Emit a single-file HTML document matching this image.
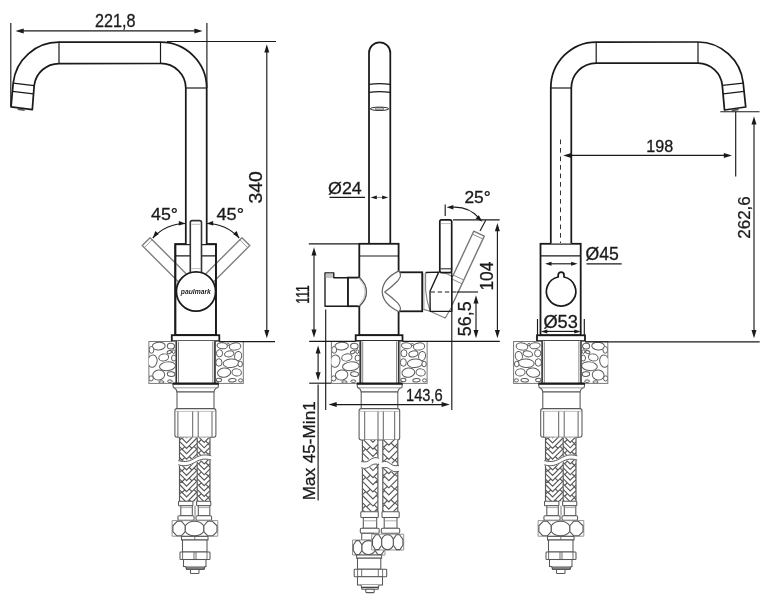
<!DOCTYPE html>
<html><head><meta charset="utf-8"><title>Faucet dimensions</title>
<style>html,body{margin:0;padding:0;background:#fff}svg{display:block;filter:grayscale(1)}text{font-family:"Liberation Sans",sans-serif}</style></head>
<body>
<svg width="762" height="600" viewBox="0 0 762 600" font-family="'Liberation Sans', sans-serif">
<rect width="762" height="600" fill="#fff"/>
<g id="left">
<polygon points="190.06,277.64 150.11,237.69 142.19,245.61 182.14,285.56" fill="#fff" stroke="#808080" stroke-width="1.4" stroke-linejoin="round"/><line x1="152.23" y1="239.81" x2="144.31" y2="247.73" stroke="#8a8a8a" stroke-width="0.80" />
<polygon points="209.86,285.56 249.81,245.61 241.89,237.69 201.94,277.64" fill="#fff" stroke="#808080" stroke-width="1.4" stroke-linejoin="round"/><line x1="247.69" y1="247.73" x2="239.77" y2="239.81" stroke="#8a8a8a" stroke-width="0.80" />
<rect x="175.3" y="244.2" width="40.6" height="91" fill="#fff" stroke="#1a1a1a" stroke-width="1.80"/>
<clipPath id="bodyL"><rect x="175.3" y="244.2" width="40.6" height="91"/></clipPath><g clip-path="url(#bodyL)"><polygon points="190.06,277.64 150.11,237.69 142.19,245.61 182.14,285.56" fill="none" stroke="#808080" stroke-width="1.4" stroke-linejoin="round"/><line x1="152.23" y1="239.81" x2="144.31" y2="247.73" stroke="#8a8a8a" stroke-width="0.80" /><polygon points="209.86,285.56 249.81,245.61 241.89,237.69 201.94,277.64" fill="none" stroke="#808080" stroke-width="1.4" stroke-linejoin="round"/><line x1="247.69" y1="247.73" x2="239.77" y2="239.81" stroke="#8a8a8a" stroke-width="0.80" /></g>
<rect x="175.3" y="244.2" width="40.6" height="91" fill="none" stroke="#1a1a1a" stroke-width="1.80"/>
<line x1="175.30" y1="255.80" x2="215.90" y2="255.80" stroke="#1a1a1a" stroke-width="1.20" />
<path d="M185.8 244 L185.8 88 A25.2 24.6 0 0 0 160.5 63.5 L59 63.5 A25 25 0 0 0 34.2 85.3 L32.3 109.7 L11 106.8 L13.2 83 A45.9 45.9 0 0 1 59 42.2 L160.5 42.2 A46.2 45.8 0 0 1 206.7 88 L206.7 244" fill="#fff" stroke="#1a1a1a" stroke-width="1.75" stroke-linejoin="round"/>
<line x1="185.80" y1="88.00" x2="206.70" y2="88.00" stroke="#1a1a1a" stroke-width="1.20" />
<line x1="160.50" y1="42.00" x2="160.50" y2="63.50" stroke="#1a1a1a" stroke-width="1.20" />
<line x1="59.00" y1="42.20" x2="59.00" y2="63.50" stroke="#1a1a1a" stroke-width="1.20" />
<line x1="13.20" y1="83.20" x2="34.20" y2="85.70" stroke="#1a1a1a" stroke-width="1.20" />
<line x1="12.50" y1="91.30" x2="33.40" y2="93.80" stroke="#1a1a1a" stroke-width="1.20" />
<path d="M17.8 108.4 L24.8 109.3 L24.6 111 L17.6 110.1 Z" fill="#555"/>
<rect x="190.3" y="220.6" width="11.2" height="55" rx="1.8" fill="#fff" stroke="#333" stroke-width="1.6"/>
<line x1="191.40" y1="224.30" x2="200.60" y2="224.30" stroke="#aaa" stroke-width="0.80" />
<line x1="191.40" y1="268.60" x2="200.60" y2="268.60" stroke="#aaa" stroke-width="0.80" />
<circle cx="196" cy="291.5" r="19.6" fill="#fff" stroke="#1a1a1a" stroke-width="1.80"/>
<text x="195.8" y="293.6" font-size="6.5" font-style="italic" font-weight="bold" text-anchor="middle" fill="#1a1a1a" textLength="30" lengthAdjust="spacingAndGlyphs">paulmark</text>
<rect x="171.8" y="335.2" width="47.5" height="6" fill="#fff" stroke="#1a1a1a" stroke-width="1.80"/>
<g stroke="#5c5c5c" stroke-width="1.0" fill="#fff"><rect x="148.90" y="341.50" width="27.00" height="41.90" fill="#fff" stroke="#777" stroke-width="1.0"/><clipPath id="c1"><rect x="148.90" y="341.50" width="27.00" height="41.90"/></clipPath><g clip-path="url(#c1)"><ellipse cx="158.70" cy="346.09" rx="6.50" ry="3.89" transform="rotate(-4 158.70 346.09)"/><ellipse cx="170.90" cy="346.09" rx="3.60" ry="2.89" transform="rotate(8 170.90 346.09)"/><ellipse cx="169.30" cy="352.07" rx="2.30" ry="1.50" transform="rotate(-20 169.30 352.07)"/><ellipse cx="163.70" cy="357.46" rx="5.00" ry="3.49" transform="rotate(-12 163.70 357.46)"/><ellipse cx="152.50" cy="361.05" rx="4.60" ry="6.19" transform="rotate(8 152.50 361.05)"/><ellipse cx="167.50" cy="366.24" rx="8.00" ry="4.39" transform="rotate(-6 167.50 366.24)"/><ellipse cx="158.70" cy="375.02" rx="6.00" ry="4.99" transform="rotate(-8 158.70 375.02)"/><ellipse cx="171.10" cy="374.12" rx="3.80" ry="2.29" transform="rotate(6 171.10 374.12)"/><ellipse cx="169.90" cy="381.21" rx="2.40" ry="1.30" transform="rotate(0 169.90 381.21)"/><ellipse cx="173.90" cy="358.06" rx="2.40" ry="2.99" transform="rotate(0 173.90 358.06)"/><ellipse cx="151.50" cy="349.88" rx="2.40" ry="3.39" transform="rotate(0 151.50 349.88)"/><ellipse cx="151.10" cy="378.41" rx="2.20" ry="2.59" transform="rotate(0 151.10 378.41)"/><ellipse cx="161.40" cy="382.00" rx="2.60" ry="1.20" transform="rotate(0 161.40 382.00)"/><ellipse cx="173.70" cy="351.68" rx="1.40" ry="1.80" transform="rotate(0 173.70 351.68)"/></g></g><g stroke="#5c5c5c" stroke-width="1.0" fill="#fff"><rect x="215.40" y="341.50" width="27.90" height="41.90" fill="#fff" stroke="#777" stroke-width="1.0"/><clipPath id="c2"><rect x="215.40" y="341.50" width="27.90" height="41.90"/></clipPath><g clip-path="url(#c2)"><ellipse cx="235.03" cy="346.49" rx="5.79" ry="3.59" transform="rotate(-6 235.03 346.49)"/><ellipse cx="222.22" cy="345.69" rx="5.17" ry="2.99" transform="rotate(6 222.22 345.69)"/><ellipse cx="229.25" cy="353.87" rx="4.75" ry="2.99" transform="rotate(-12 229.25 353.87)"/><ellipse cx="219.53" cy="353.27" rx="3.10" ry="3.59" transform="rotate(0 219.53 353.27)"/><ellipse cx="238.13" cy="356.07" rx="3.51" ry="4.59" transform="rotate(10 238.13 356.07)"/><ellipse cx="230.90" cy="363.25" rx="7.85" ry="4.19" transform="rotate(-4 230.90 363.25)"/><ellipse cx="218.91" cy="362.45" rx="3.10" ry="3.79" transform="rotate(0 218.91 362.45)"/><ellipse cx="224.08" cy="372.63" rx="6.61" ry="4.59" transform="rotate(-8 224.08 372.63)"/><ellipse cx="236.69" cy="372.43" rx="4.75" ry="3.59" transform="rotate(8 236.69 372.43)"/><ellipse cx="240.20" cy="364.05" rx="2.27" ry="2.79" transform="rotate(0 240.20 364.05)"/><ellipse cx="232.35" cy="380.21" rx="3.72" ry="1.80" transform="rotate(-4 232.35 380.21)"/><ellipse cx="218.91" cy="380.01" rx="2.69" ry="1.80" transform="rotate(6 218.91 380.01)"/><ellipse cx="240.61" cy="380.41" rx="2.07" ry="1.60" transform="rotate(0 240.61 380.41)"/><ellipse cx="228.21" cy="344.49" rx="1.24" ry="1.00" transform="rotate(0 228.21 344.49)"/></g></g><rect x="176.40" y="341" width="38.40" height="42.4" fill="#fff" stroke="none"/><line x1="176.40" y1="341.00" x2="176.40" y2="383.40" stroke="#333" stroke-width="1.40" /><line x1="214.80" y1="341.00" x2="214.80" y2="383.40" stroke="#333" stroke-width="1.40" /><line x1="178.50" y1="341.50" x2="178.50" y2="383.00" stroke="#777" stroke-width="0.90" /><line x1="212.80" y1="341.50" x2="212.80" y2="383.00" stroke="#777" stroke-width="0.90" /><path d="M172.80 384.3 L173.40 387.6 Q176.60 388.6 177.00 392 L214.00 392 Q214.40 388.6 218.00 387.6 L218.60 384.3 Z" fill="#fff" stroke="#585858" stroke-width="1.05" stroke-linejoin="round"/><line x1="173.80" y1="387.80" x2="217.60" y2="387.80" stroke="#888" stroke-width="0.80" /><line x1="172.60" y1="383.60" x2="218.80" y2="383.60" stroke="#1a1a1a" stroke-width="2.00" /><rect x="177.00" y="392.00" width="37.00" height="16.80" rx="0.00" fill="#fff" stroke="#585858" stroke-width="1.05"/><rect x="174.90" y="408.60" width="41.00" height="28.60" rx="2.20" fill="#fff" stroke="#585858" stroke-width="1.05"/><line x1="177.90" y1="411.30" x2="177.90" y2="437.00" stroke="#585858" stroke-width="0.95" /><line x1="192.70" y1="411.30" x2="192.70" y2="437.00" stroke="#585858" stroke-width="0.95" /><line x1="198.20" y1="411.30" x2="198.20" y2="437.00" stroke="#585858" stroke-width="0.95" /><line x1="212.00" y1="411.30" x2="212.00" y2="437.00" stroke="#585858" stroke-width="0.95" /><line x1="175.70" y1="411.40" x2="215.10" y2="411.40" stroke="#999" stroke-width="0.60" />
<g stroke="#585858" stroke-width="1.15" fill="none"><rect x="192.90" y="437.40" width="17.10" height="63.90" fill="#fff" stroke="none"/><clipPath id="c3"><rect x="192.90" y="437.40" width="17.10" height="63.90"/></clipPath><g clip-path="url(#c3)"><path d="M192.90 414.90 L204.19 426.19 L210.00 420.37 M196.29 418.29 l-2.70 2.70 M208.26 422.12 l2.70 2.70 M192.90 420.30 L204.19 431.59 L210.00 425.77 M201.36 428.76 l-2.70 2.70 M205.64 430.13 l2.70 2.70 M192.90 425.70 L204.19 436.99 L210.00 431.17 M196.29 429.09 l-2.70 2.70 M208.26 432.92 l2.70 2.70 M192.90 431.10 L204.19 442.39 L210.00 436.57 M201.36 439.56 l-2.70 2.70 M205.64 440.93 l2.70 2.70 M192.90 436.50 L204.19 447.79 L210.00 441.97 M196.29 439.89 l-2.70 2.70 M208.26 443.72 l2.70 2.70 M192.90 441.90 L204.19 453.19 L210.00 447.37 M201.36 450.36 l-2.70 2.70 M205.64 451.73 l2.70 2.70 M192.90 447.30 L204.19 458.59 L210.00 452.77 M196.29 450.69 l-2.70 2.70 M208.26 454.52 l2.70 2.70 M192.90 452.70 L204.19 463.99 L210.00 458.17 M201.36 461.16 l-2.70 2.70 M205.64 462.53 l2.70 2.70 M192.90 458.10 L204.19 469.39 L210.00 463.57 M196.29 461.49 l-2.70 2.70 M208.26 465.32 l2.70 2.70 M192.90 463.50 L204.19 474.79 L210.00 468.97 M201.36 471.96 l-2.70 2.70 M205.64 473.33 l2.70 2.70 M192.90 468.90 L204.19 480.19 L210.00 474.37 M196.29 472.29 l-2.70 2.70 M208.26 476.12 l2.70 2.70 M192.90 474.30 L204.19 485.59 L210.00 479.77 M201.36 482.76 l-2.70 2.70 M205.64 484.13 l2.70 2.70 M192.90 479.70 L204.19 490.99 L210.00 485.17 M196.29 483.09 l-2.70 2.70 M208.26 486.92 l2.70 2.70 M192.90 485.10 L204.19 496.39 L210.00 490.57 M201.36 493.56 l-2.70 2.70 M205.64 494.93 l2.70 2.70 M192.90 490.50 L204.19 501.79 L210.00 495.97 M196.29 493.89 l-2.70 2.70 M208.26 497.72 l2.70 2.70 M192.90 495.90 L204.19 507.19 L210.00 501.37 M201.36 504.36 l-2.70 2.70 M205.64 505.73 l2.70 2.70 M192.90 501.30 L204.19 512.59 L210.00 506.77 M196.29 504.69 l-2.70 2.70 M208.26 508.52 l2.70 2.70 M192.90 506.70 L204.19 517.99 L210.00 512.17 M201.36 515.16 l-2.70 2.70 M205.64 516.53 l2.70 2.70 M192.90 512.10 L204.19 523.39 L210.00 517.57 M196.29 515.49 l-2.70 2.70 M208.26 519.32 l2.70 2.70 M192.90 517.50 L204.19 528.79 L210.00 522.97 M201.36 525.96 l-2.70 2.70 M205.64 527.33 l2.70 2.70 M192.90 522.90 L204.19 534.19 L210.00 528.37 M196.29 526.29 l-2.70 2.70 M208.26 530.12 l2.70 2.70"/></g><line x1="192.90" y1="437.40" x2="192.90" y2="501.30" stroke="#585858" stroke-width="1.15" /><line x1="210.00" y1="437.40" x2="210.00" y2="501.30" stroke="#585858" stroke-width="1.15" /></g><g stroke="#585858" stroke-width="1.15" fill="none"><rect x="179.50" y="437.40" width="17.70" height="63.90" fill="#fff" stroke="none"/><clipPath id="c4"><rect x="179.50" y="437.40" width="17.70" height="63.90"/></clipPath><g clip-path="url(#c4)"><path d="M179.50 414.30 L186.58 421.38 L197.20 410.76 M181.62 416.42 l-2.70 2.70 M194.01 413.95 l2.70 2.70 M179.50 419.70 L186.58 426.78 L197.20 416.16 M184.81 425.01 l-2.70 2.70 M189.23 424.12 l2.70 2.70 M179.50 425.10 L186.58 432.18 L197.20 421.56 M181.62 427.22 l-2.70 2.70 M194.01 424.75 l2.70 2.70 M179.50 430.50 L186.58 437.58 L197.20 426.96 M184.81 435.81 l-2.70 2.70 M189.23 434.92 l2.70 2.70 M179.50 435.90 L186.58 442.98 L197.20 432.36 M181.62 438.02 l-2.70 2.70 M194.01 435.55 l2.70 2.70 M179.50 441.30 L186.58 448.38 L197.20 437.76 M184.81 446.61 l-2.70 2.70 M189.23 445.72 l2.70 2.70 M179.50 446.70 L186.58 453.78 L197.20 443.16 M181.62 448.82 l-2.70 2.70 M194.01 446.35 l2.70 2.70 M179.50 452.10 L186.58 459.18 L197.20 448.56 M184.81 457.41 l-2.70 2.70 M189.23 456.52 l2.70 2.70 M179.50 457.50 L186.58 464.58 L197.20 453.96 M181.62 459.62 l-2.70 2.70 M194.01 457.15 l2.70 2.70 M179.50 462.90 L186.58 469.98 L197.20 459.36 M184.81 468.21 l-2.70 2.70 M189.23 467.32 l2.70 2.70 M179.50 468.30 L186.58 475.38 L197.20 464.76 M181.62 470.42 l-2.70 2.70 M194.01 467.95 l2.70 2.70 M179.50 473.70 L186.58 480.78 L197.20 470.16 M184.81 479.01 l-2.70 2.70 M189.23 478.12 l2.70 2.70 M179.50 479.10 L186.58 486.18 L197.20 475.56 M181.62 481.22 l-2.70 2.70 M194.01 478.75 l2.70 2.70 M179.50 484.50 L186.58 491.58 L197.20 480.96 M184.81 489.81 l-2.70 2.70 M189.23 488.92 l2.70 2.70 M179.50 489.90 L186.58 496.98 L197.20 486.36 M181.62 492.02 l-2.70 2.70 M194.01 489.55 l2.70 2.70 M179.50 495.30 L186.58 502.38 L197.20 491.76 M184.81 500.61 l-2.70 2.70 M189.23 499.72 l2.70 2.70 M179.50 500.70 L186.58 507.78 L197.20 497.16 M181.62 502.82 l-2.70 2.70 M194.01 500.35 l2.70 2.70 M179.50 506.10 L186.58 513.18 L197.20 502.56 M184.81 511.41 l-2.70 2.70 M189.23 510.52 l2.70 2.70 M179.50 511.50 L186.58 518.58 L197.20 507.96 M181.62 513.62 l-2.70 2.70 M194.01 511.15 l2.70 2.70 M179.50 516.90 L186.58 523.98 L197.20 513.36 M184.81 522.21 l-2.70 2.70 M189.23 521.32 l2.70 2.70 M179.50 522.30 L186.58 529.38 L197.20 518.76 M181.62 524.42 l-2.70 2.70 M194.01 521.95 l2.70 2.70"/></g><line x1="179.50" y1="437.40" x2="179.50" y2="501.30" stroke="#585858" stroke-width="1.15" /><line x1="197.20" y1="437.40" x2="197.20" y2="501.30" stroke="#585858" stroke-width="1.15" /></g><path d="M178.30 462.70 C186.21 464.86 190.48 462.70 194.75 460.30 S203.29 455.74 211.20 457.90" fill="none" stroke="#fff" stroke-width="5.20"/><path d="M178.30 460.60 C186.21 462.76 190.48 460.60 194.75 458.20 S203.29 453.64 211.20 455.80" fill="none" stroke="#585858" stroke-width="1.0"/><path d="M178.30 464.80 C186.21 466.96 190.48 464.80 194.75 462.40 S203.29 457.84 211.20 460.00" fill="none" stroke="#585858" stroke-width="1.0"/><rect x="178.50" y="501.30" width="14.40" height="4.40" rx="0.80" fill="#fff" stroke="#585858" stroke-width="1.05"/><rect x="196.60" y="501.30" width="14.20" height="4.40" rx="0.80" fill="#fff" stroke="#585858" stroke-width="1.05"/><rect x="180.80" y="505.70" width="11.50" height="10.00" rx="0.00" fill="#fff" stroke="#585858" stroke-width="1.05"/><rect x="198.30" y="505.70" width="11.50" height="10.00" rx="0.00" fill="#fff" stroke="#585858" stroke-width="1.05"/><line x1="180.80" y1="507.60" x2="192.30" y2="507.60" stroke="#888" stroke-width="0.70" /><line x1="198.30" y1="507.60" x2="209.80" y2="507.60" stroke="#888" stroke-width="0.70" /><rect x="177.90" y="515.70" width="16.20" height="4.50" rx="1.20" fill="#fff" stroke="#585858" stroke-width="1.05"/><rect x="196.00" y="515.70" width="15.60" height="4.50" rx="1.20" fill="#fff" stroke="#585858" stroke-width="1.05"/><line x1="195.00" y1="505.70" x2="195.00" y2="515.70" stroke="#585858" stroke-width="0.80" /><g stroke="#585858" stroke-width="1.10" fill="#fff" stroke-linejoin="round"><rect x="172.10" y="520.60" width="45.70" height="15.60" stroke="#8a8a8a" stroke-width="0.9"/><path d="M172.90 525.75 L177.38 521.20 L181.34 521.20 L185.30 525.75 L185.30 531.52 L181.34 535.80 L176.85 535.80 L172.90 531.52 Z"/><path d="M217.00 525.75 L212.16 521.20 L207.93 521.20 L203.70 525.75 L203.70 531.52 L207.93 535.80 L212.72 535.80 L217.00 531.52 Z"/><path d="M185.30 525.75 Q188.24 521.20 194.50 521.20 Q200.76 521.20 203.70 525.75 L203.70 531.52 Q200.76 535.80 194.50 535.80 Q188.24 535.80 185.30 531.52 Z"/></g><rect x="181.50" y="536.40" width="26.50" height="3.60" rx="0.00" fill="#fff" stroke="#585858" stroke-width="1.05"/><line x1="194.80" y1="536.40" x2="194.80" y2="540.00" stroke="#585858" stroke-width="0.80" /><rect x="182.50" y="540.00" width="24.50" height="12.00" rx="0.00" fill="#fff" stroke="#585858" stroke-width="1.05"/><rect x="180.00" y="552.00" width="30.00" height="7.50" rx="0.80" fill="#fff" stroke="#585858" stroke-width="1.05"/><line x1="182.60" y1="552.00" x2="182.60" y2="559.50" stroke="#585858" stroke-width="0.85" /><line x1="194.00" y1="552.00" x2="194.00" y2="559.50" stroke="#585858" stroke-width="0.85" /><line x1="196.00" y1="552.00" x2="196.00" y2="559.50" stroke="#585858" stroke-width="0.85" /><line x1="207.00" y1="552.00" x2="207.00" y2="559.50" stroke="#585858" stroke-width="0.85" /><rect x="183.50" y="559.50" width="22.50" height="7.00" rx="0.00" fill="#fff" stroke="#585858" stroke-width="1.05"/><path d="M185.60 566.5 L186.60 569.5 L204.00 569.5 L205.00 566.5" fill="#fff" stroke="#585858" stroke-width="1.05"/><line x1="186.00" y1="568.00" x2="204.60" y2="568.00" stroke="#444" stroke-width="1.40" /><rect x="190.50" y="569.50" width="8.50" height="4.00" rx="0.80" fill="#fff" stroke="#585858" stroke-width="1.05"/>
<line x1="10.80" y1="23.00" x2="10.80" y2="106.00" stroke="#1a1a1a" stroke-width="1.15" />
<line x1="206.90" y1="23.00" x2="206.90" y2="88.00" stroke="#1a1a1a" stroke-width="1.15" />
<line x1="19.50" y1="30.90" x2="198.60" y2="30.90" stroke="#1a1a1a" stroke-width="1.15" /><polygon points="15.50,30.90 23.70,28.40 23.70,33.40" fill="#1a1a1a"/><polygon points="202.60,30.90 194.40,33.40 194.40,28.40" fill="#1a1a1a"/>
<text x="115.30" y="27.00" font-size="18.16" text-anchor="middle" fill="#1a1a1a" stroke="#1a1a1a" stroke-width="0.3" textLength="40.50" lengthAdjust="spacingAndGlyphs">221,8</text>
<line x1="167.00" y1="41.50" x2="276.00" y2="41.50" stroke="#1a1a1a" stroke-width="1.15" />
<line x1="219.30" y1="341.60" x2="275.00" y2="341.60" stroke="#1a1a1a" stroke-width="1.15" />
<line x1="266.80" y1="48.20" x2="266.80" y2="334.30" stroke="#1a1a1a" stroke-width="1.15" /><polygon points="266.80,44.20 269.30,52.40 264.30,52.40" fill="#1a1a1a"/><polygon points="266.80,338.30 264.30,330.10 269.30,330.10" fill="#1a1a1a"/>
<text x="262.20" y="187.40" font-size="18.30" text-anchor="middle" fill="#1a1a1a" stroke="#1a1a1a" stroke-width="0.3" textLength="32.31" lengthAdjust="spacingAndGlyphs" transform="rotate(-90 262.20 187.40)">340</text>
<path d="M185.20 223.50 A45.00 45.00 0 0 0 152.80 238.00" fill="none" stroke="#1a1a1a" stroke-width="1.15"/><polygon points="185.40,223.50 178.73,225.47 178.88,221.07" fill="#1a1a1a"/><polygon points="152.80,238.00 155.30,231.07 158.92,233.90" fill="#1a1a1a"/>
<path d="M206.80 223.50 A45.00 45.00 0 0 1 239.20 238.00" fill="none" stroke="#1a1a1a" stroke-width="1.15"/><polygon points="206.60,223.50 213.12,221.07 213.27,225.47" fill="#1a1a1a"/><polygon points="239.20,238.00 233.08,233.90 236.70,231.07" fill="#1a1a1a"/>
<text x="164.50" y="220.20" font-size="17.04" text-anchor="middle" fill="#1a1a1a" stroke="#1a1a1a" stroke-width="0.3" textLength="26.92" lengthAdjust="spacingAndGlyphs">45°</text>
<text x="230.20" y="220.20" font-size="17.04" text-anchor="middle" fill="#1a1a1a" stroke="#1a1a1a" stroke-width="0.3" textLength="27.50" lengthAdjust="spacingAndGlyphs">45°</text>
</g>
<g id="centre">
<path d="M369 243.6 L369 53 A10.65 10.7 0 0 1 390.3 53 L390.3 243.6" fill="#fff" stroke="#1a1a1a" stroke-width="1.75"/>
<path d="M369 84.4 Q379.6 82.8 390.2 84.4 M369 92.4 Q379.6 90.8 390.2 92.4" fill="none" stroke="#1a1a1a" stroke-width="1.2"/>
<ellipse cx="379.5" cy="108.8" rx="9.3" ry="1.7" fill="#fff" stroke="#1a1a1a" stroke-width="0.9"/>
<rect x="375.6" y="107.9" width="7.8" height="2.0" rx="0.8" fill="#fff" stroke="#333" stroke-width="0.8"/>
<path d="M325 272.8 L333.8 272.8 L333.8 277.7 L348 277.7 L348 306.2 L325 306.2 Z" fill="#fff" stroke="#1a1a1a" stroke-width="1.35" stroke-linejoin="round"/>
<rect x="325.8" y="273.8" width="7.2" height="4.2" fill="#c4c4c4"/>
<rect x="348" y="277.6" width="11.5" height="28.6" fill="#fff" stroke="#1a1a1a" stroke-width="1.80"/>
<rect x="398" y="272.3" width="24.2" height="39" fill="#fff" stroke="#1a1a1a" stroke-width="1.80"/>
<rect x="359.3" y="243.8" width="39.3" height="91.4" fill="#fff" stroke="#1a1a1a" stroke-width="1.80"/>
<line x1="359.30" y1="256.00" x2="398.60" y2="256.00" stroke="#1a1a1a" stroke-width="1.20" />
<line x1="359.30" y1="278.20" x2="359.30" y2="305.60" stroke="#fff" stroke-width="2.60" />
<path d="M359.4 277.4 Q366.6 284 366.4 291.8 Q366.6 299.6 359.4 306.2" fill="#fff" stroke="#555" stroke-width="1.3"/>
<path d="M359.6 279.3 Q365.2 285 365.0 291.8 Q365.2 298.6 359.6 304.3" fill="none" stroke="#bbb" stroke-width="0.8"/>
<line x1="398.70" y1="272.20" x2="398.70" y2="310.40" stroke="#fff" stroke-width="2.80" />
<path d="M398.9 270.9 Q382.6 279 382.2 291.6 Q382.6 304 398.9 311.8" fill="#fff" stroke="#666" stroke-width="1.25"/>
<path d="M398.9 270.9 Q402.6 275.4 397.6 281 Q391 287.6 384.7 292 Q391 296.6 397.6 302.8 Q402.6 308.4 398.9 311.8" fill="none" stroke="#666" stroke-width="1.15" stroke-linejoin="round"/>
<rect x="355.7" y="335.2" width="46.8" height="5.8" fill="#fff" stroke="#1a1a1a" stroke-width="1.80"/>
<path d="M452.49 276.79 L473.74 231.20 L484.26 236.10 L452.14 304.98" fill="#fff" stroke="#777" stroke-width="1.4" stroke-linejoin="round"/><line x1="472.39" y1="234.10" x2="482.90" y2="239.00" stroke="#808080" stroke-width="0.90" /><line x1="453.29" y1="275.06" x2="463.80" y2="279.97" stroke="#808080" stroke-width="0.90" /><line x1="451.51" y1="278.87" x2="462.03" y2="283.77" stroke="#808080" stroke-width="0.90" />
<path d="M425.6 272.7 L425.6 290 Q426.5 301 430.2 311.3 L445.1 318.1 L451.4 307.5" fill="none" stroke="#808080" stroke-width="1.1" stroke-linejoin="round"/>
<path d="M423.4 309.4 L430.2 311.3" fill="none" stroke="#808080" stroke-width="1.1"/>
<path d="M438.7 272 Q446 272.6 451.6 276.2" fill="none" stroke="#808080" stroke-width="1.1"/>
<line x1="423.90" y1="273.20" x2="423.90" y2="309.40" stroke="#808080" stroke-width="0.80" />
<path d="M425.6 272.5 L438.7 272.1 L430 291.3 L430.2 311.3 L451.8 311.3 L451.8 272.4" fill="none" stroke="#1a1a1a" stroke-width="1.35" stroke-linejoin="round"/>
<rect x="439.8" y="219.8" width="11.9" height="52.8" rx="1.8" fill="#fff" stroke="#1a1a1a" stroke-width="1.7"/>
<line x1="440.80" y1="223.60" x2="450.80" y2="223.60" stroke="#aaa" stroke-width="0.80" />
<line x1="440.60" y1="268.80" x2="451.00" y2="268.80" stroke="#1a1a1a" stroke-width="1.00" />
<line x1="430.50" y1="292.00" x2="457.00" y2="292.00" stroke="#1a1a1a" stroke-width="1.00" stroke-dasharray="4.4 2.8"/>
<line x1="457.00" y1="292.00" x2="478.00" y2="292.00" stroke="#1a1a1a" stroke-width="1.15" />
<g stroke="#5c5c5c" stroke-width="1.0" fill="#fff"><rect x="331.40" y="341.50" width="28.20" height="41.90" fill="#fff" stroke="#777" stroke-width="1.0"/><clipPath id="c5"><rect x="331.40" y="341.50" width="28.20" height="41.90"/></clipPath><g clip-path="url(#c5)"><ellipse cx="341.64" cy="346.09" rx="6.79" ry="3.89" transform="rotate(-4 341.64 346.09)"/><ellipse cx="354.38" cy="346.09" rx="3.76" ry="2.89" transform="rotate(8 354.38 346.09)"/><ellipse cx="352.71" cy="352.07" rx="2.40" ry="1.50" transform="rotate(-20 352.71 352.07)"/><ellipse cx="346.86" cy="357.46" rx="5.22" ry="3.49" transform="rotate(-12 346.86 357.46)"/><ellipse cx="335.16" cy="361.05" rx="4.80" ry="6.19" transform="rotate(8 335.16 361.05)"/><ellipse cx="350.83" cy="366.24" rx="8.36" ry="4.39" transform="rotate(-6 350.83 366.24)"/><ellipse cx="341.64" cy="375.02" rx="6.27" ry="4.99" transform="rotate(-8 341.64 375.02)"/><ellipse cx="354.59" cy="374.12" rx="3.97" ry="2.29" transform="rotate(6 354.59 374.12)"/><ellipse cx="353.33" cy="381.21" rx="2.51" ry="1.30" transform="rotate(0 353.33 381.21)"/><ellipse cx="357.51" cy="358.06" rx="2.51" ry="2.99" transform="rotate(0 357.51 358.06)"/><ellipse cx="334.12" cy="349.88" rx="2.51" ry="3.39" transform="rotate(0 334.12 349.88)"/><ellipse cx="333.70" cy="378.41" rx="2.30" ry="2.59" transform="rotate(0 333.70 378.41)"/><ellipse cx="344.46" cy="382.00" rx="2.72" ry="1.20" transform="rotate(0 344.46 382.00)"/><ellipse cx="357.30" cy="351.68" rx="1.46" ry="1.80" transform="rotate(0 357.30 351.68)"/></g></g><g stroke="#5c5c5c" stroke-width="1.0" fill="#fff"><rect x="399.90" y="341.50" width="27.20" height="41.90" fill="#fff" stroke="#777" stroke-width="1.0"/><clipPath id="c6"><rect x="399.90" y="341.50" width="27.20" height="41.90"/></clipPath><g clip-path="url(#c6)"><ellipse cx="419.04" cy="346.49" rx="5.64" ry="3.59" transform="rotate(-6 419.04 346.49)"/><ellipse cx="406.55" cy="345.69" rx="5.04" ry="2.99" transform="rotate(6 406.55 345.69)"/><ellipse cx="413.40" cy="353.87" rx="4.63" ry="2.99" transform="rotate(-12 413.40 353.87)"/><ellipse cx="403.93" cy="353.27" rx="3.02" ry="3.59" transform="rotate(0 403.93 353.27)"/><ellipse cx="422.06" cy="356.07" rx="3.43" ry="4.59" transform="rotate(10 422.06 356.07)"/><ellipse cx="415.01" cy="363.25" rx="7.66" ry="4.19" transform="rotate(-4 415.01 363.25)"/><ellipse cx="403.33" cy="362.45" rx="3.02" ry="3.79" transform="rotate(0 403.33 362.45)"/><ellipse cx="408.36" cy="372.63" rx="6.45" ry="4.59" transform="rotate(-8 408.36 372.63)"/><ellipse cx="420.65" cy="372.43" rx="4.63" ry="3.59" transform="rotate(8 420.65 372.43)"/><ellipse cx="424.08" cy="364.05" rx="2.22" ry="2.79" transform="rotate(0 424.08 364.05)"/><ellipse cx="416.42" cy="380.21" rx="3.63" ry="1.80" transform="rotate(-4 416.42 380.21)"/><ellipse cx="403.33" cy="380.01" rx="2.62" ry="1.80" transform="rotate(6 403.33 380.01)"/><ellipse cx="424.48" cy="380.41" rx="2.01" ry="1.60" transform="rotate(0 424.48 380.41)"/><ellipse cx="412.39" cy="344.49" rx="1.21" ry="1.00" transform="rotate(0 412.39 344.49)"/></g></g><rect x="360.60" y="341" width="38.00" height="42.4" fill="#fff" stroke="none"/><line x1="360.60" y1="341.00" x2="360.60" y2="383.40" stroke="#333" stroke-width="1.40" /><line x1="398.60" y1="341.00" x2="398.60" y2="383.40" stroke="#333" stroke-width="1.40" /><line x1="362.70" y1="341.50" x2="362.70" y2="383.00" stroke="#777" stroke-width="0.90" /><line x1="396.60" y1="341.50" x2="396.60" y2="383.00" stroke="#777" stroke-width="0.90" /><path d="M357.00 384.3 L357.60 387.6 Q360.80 388.6 361.20 392 L397.80 392 Q398.20 388.6 401.80 387.6 L402.40 384.3 Z" fill="#fff" stroke="#585858" stroke-width="1.05" stroke-linejoin="round"/><line x1="358.00" y1="387.80" x2="401.40" y2="387.80" stroke="#888" stroke-width="0.80" /><line x1="356.80" y1="383.60" x2="402.60" y2="383.60" stroke="#1a1a1a" stroke-width="2.00" /><rect x="361.20" y="392.00" width="36.60" height="16.80" rx="0.00" fill="#fff" stroke="#585858" stroke-width="1.05"/><rect x="359.10" y="408.60" width="40.60" height="31.40" rx="2.20" fill="#fff" stroke="#585858" stroke-width="1.05"/><line x1="364.70" y1="411.30" x2="364.70" y2="439.80" stroke="#585858" stroke-width="0.95" /><line x1="378.00" y1="411.30" x2="378.00" y2="439.80" stroke="#585858" stroke-width="0.95" /><line x1="383.30" y1="411.30" x2="383.30" y2="439.80" stroke="#585858" stroke-width="0.95" /><line x1="394.70" y1="411.30" x2="394.70" y2="439.80" stroke="#585858" stroke-width="0.95" /><line x1="359.90" y1="411.40" x2="398.90" y2="411.40" stroke="#999" stroke-width="0.60" />
<g stroke="#585858" stroke-width="1.15" fill="none"><rect x="362.40" y="440.00" width="15.50" height="71.70" fill="#fff" stroke="none"/><clipPath id="c7"><rect x="362.40" y="440.00" width="15.50" height="71.70"/></clipPath><g clip-path="url(#c7)"><path d="M362.40 417.40 L372.94 427.94 L377.90 422.98 M365.56 420.56 l-3.55 3.55 M376.41 424.47 l3.55 3.55 M362.40 424.50 L372.94 435.04 L377.90 430.08 M370.31 432.41 l-3.55 3.55 M374.18 433.80 l3.55 3.55 M362.40 431.60 L372.94 442.14 L377.90 437.18 M365.56 434.76 l-3.55 3.55 M376.41 438.67 l3.55 3.55 M362.40 438.70 L372.94 449.24 L377.90 444.28 M370.31 446.61 l-3.55 3.55 M374.18 448.00 l3.55 3.55 M362.40 445.80 L372.94 456.34 L377.90 451.38 M365.56 448.96 l-3.55 3.55 M376.41 452.87 l3.55 3.55 M362.40 452.90 L372.94 463.44 L377.90 458.48 M370.31 460.81 l-3.55 3.55 M374.18 462.20 l3.55 3.55 M362.40 460.00 L372.94 470.54 L377.90 465.58 M365.56 463.16 l-3.55 3.55 M376.41 467.07 l3.55 3.55 M362.40 467.10 L372.94 477.64 L377.90 472.68 M370.31 475.01 l-3.55 3.55 M374.18 476.40 l3.55 3.55 M362.40 474.20 L372.94 484.74 L377.90 479.78 M365.56 477.36 l-3.55 3.55 M376.41 481.27 l3.55 3.55 M362.40 481.30 L372.94 491.84 L377.90 486.88 M370.31 489.21 l-3.55 3.55 M374.18 490.60 l3.55 3.55 M362.40 488.40 L372.94 498.94 L377.90 493.98 M365.56 491.56 l-3.55 3.55 M376.41 495.47 l3.55 3.55 M362.40 495.50 L372.94 506.04 L377.90 501.08 M370.31 503.41 l-3.55 3.55 M374.18 504.80 l3.55 3.55 M362.40 502.60 L372.94 513.14 L377.90 508.18 M365.56 505.76 l-3.55 3.55 M376.41 509.67 l3.55 3.55 M362.40 509.70 L372.94 520.24 L377.90 515.28 M370.31 517.61 l-3.55 3.55 M374.18 519.00 l3.55 3.55 M362.40 516.80 L372.94 527.34 L377.90 522.38 M365.56 519.96 l-3.55 3.55 M376.41 523.87 l3.55 3.55 M362.40 523.90 L372.94 534.44 L377.90 529.48 M370.31 531.81 l-3.55 3.55 M374.18 533.20 l3.55 3.55 M362.40 531.00 L372.94 541.54 L377.90 536.58 M365.56 534.16 l-3.55 3.55 M376.41 538.07 l3.55 3.55"/></g><line x1="362.40" y1="440.00" x2="362.40" y2="511.70" stroke="#585858" stroke-width="1.15" /><line x1="377.90" y1="440.00" x2="377.90" y2="511.70" stroke="#585858" stroke-width="1.15" /></g>
<g stroke="#585858" stroke-width="1.15" fill="none"><rect x="382.80" y="440.00" width="15.00" height="71.70" fill="#fff" stroke="none"/><clipPath id="c8"><rect x="382.80" y="440.00" width="15.00" height="71.70"/></clipPath><g clip-path="url(#c8)"><path d="M382.80 417.90 L388.80 423.90 L397.80 414.90 M384.60 419.70 l-3.55 3.55 M395.10 417.60 l3.55 3.55 M382.80 425.00 L388.80 431.00 L397.80 422.00 M387.30 429.50 l-3.55 3.55 M391.05 428.75 l3.55 3.55 M382.80 432.10 L388.80 438.10 L397.80 429.10 M384.60 433.90 l-3.55 3.55 M395.10 431.80 l3.55 3.55 M382.80 439.20 L388.80 445.20 L397.80 436.20 M387.30 443.70 l-3.55 3.55 M391.05 442.95 l3.55 3.55 M382.80 446.30 L388.80 452.30 L397.80 443.30 M384.60 448.10 l-3.55 3.55 M395.10 446.00 l3.55 3.55 M382.80 453.40 L388.80 459.40 L397.80 450.40 M387.30 457.90 l-3.55 3.55 M391.05 457.15 l3.55 3.55 M382.80 460.50 L388.80 466.50 L397.80 457.50 M384.60 462.30 l-3.55 3.55 M395.10 460.20 l3.55 3.55 M382.80 467.60 L388.80 473.60 L397.80 464.60 M387.30 472.10 l-3.55 3.55 M391.05 471.35 l3.55 3.55 M382.80 474.70 L388.80 480.70 L397.80 471.70 M384.60 476.50 l-3.55 3.55 M395.10 474.40 l3.55 3.55 M382.80 481.80 L388.80 487.80 L397.80 478.80 M387.30 486.30 l-3.55 3.55 M391.05 485.55 l3.55 3.55 M382.80 488.90 L388.80 494.90 L397.80 485.90 M384.60 490.70 l-3.55 3.55 M395.10 488.60 l3.55 3.55 M382.80 496.00 L388.80 502.00 L397.80 493.00 M387.30 500.50 l-3.55 3.55 M391.05 499.75 l3.55 3.55 M382.80 503.10 L388.80 509.10 L397.80 500.10 M384.60 504.90 l-3.55 3.55 M395.10 502.80 l3.55 3.55 M382.80 510.20 L388.80 516.20 L397.80 507.20 M387.30 514.70 l-3.55 3.55 M391.05 513.95 l3.55 3.55 M382.80 517.30 L388.80 523.30 L397.80 514.30 M384.60 519.10 l-3.55 3.55 M395.10 517.00 l3.55 3.55 M382.80 524.40 L388.80 530.40 L397.80 521.40 M387.30 528.90 l-3.55 3.55 M391.05 528.15 l3.55 3.55 M382.80 531.50 L388.80 537.50 L397.80 528.50 M384.60 533.30 l-3.55 3.55 M395.10 531.20 l3.55 3.55"/></g><line x1="382.80" y1="440.00" x2="382.80" y2="511.70" stroke="#585858" stroke-width="1.15" /><line x1="397.80" y1="440.00" x2="397.80" y2="511.70" stroke="#585858" stroke-width="1.15" /></g>
<path d="M361.20 464.60 C365.81 466.04 367.98 464.60 370.15 463.00 S374.49 459.96 379.10 461.40" fill="none" stroke="#fff" stroke-width="7.40"/><path d="M361.20 461.40 C365.81 462.84 367.98 461.40 370.15 459.80 S374.49 456.76 379.10 458.20" fill="none" stroke="#585858" stroke-width="1.0"/><path d="M361.20 467.80 C365.81 469.24 367.98 467.80 370.15 466.20 S374.49 463.16 379.10 464.60" fill="none" stroke="#585858" stroke-width="1.0"/>
<path d="M381.60 465.00 C386.10 463.56 388.20 465.00 390.30 466.60 S394.50 469.64 399.00 468.20" fill="none" stroke="#fff" stroke-width="7.00"/><path d="M381.60 462.00 C386.10 460.56 388.20 462.00 390.30 463.60 S394.50 466.64 399.00 465.20" fill="none" stroke="#585858" stroke-width="1.0"/><path d="M381.60 468.00 C386.10 466.56 388.20 468.00 390.30 469.60 S394.50 472.64 399.00 471.20" fill="none" stroke="#585858" stroke-width="1.0"/>
<rect x="360.80" y="511.70" width="17.50" height="5.80" rx="0.80" fill="#fff" stroke="#585858" stroke-width="1.05"/>
<rect x="382.00" y="511.70" width="17.20" height="5.80" rx="0.80" fill="#fff" stroke="#585858" stroke-width="1.05"/>
<rect x="363.30" y="517.50" width="13.40" height="10.80" rx="0.00" fill="#fff" stroke="#585858" stroke-width="1.05"/>
<rect x="384.20" y="517.50" width="12.80" height="10.80" rx="0.00" fill="#fff" stroke="#585858" stroke-width="1.05"/>
<line x1="363.30" y1="520.80" x2="376.70" y2="520.80" stroke="#888" stroke-width="0.70" />
<line x1="384.20" y1="520.80" x2="397.00" y2="520.80" stroke="#888" stroke-width="0.70" />
<rect x="360.30" y="528.30" width="18.90" height="5.00" rx="1.20" fill="#fff" stroke="#585858" stroke-width="1.05"/>
<rect x="381.30" y="528.30" width="18.40" height="5.00" rx="1.20" fill="#fff" stroke="#585858" stroke-width="1.05"/>
<rect x="361.70" y="533.30" width="12.00" height="7.00" rx="0.00" fill="#fff" stroke="#585858" stroke-width="1.05"/>
<g stroke="#585858" stroke-width="1.10" fill="#fff" stroke-linejoin="round"><rect x="352.50" y="540.00" width="32.50" height="15.00" stroke="#8a8a8a" stroke-width="0.9"/><path d="M353.30 544.95 L356.30 540.60 L359.15 540.60 L362.00 544.95 L362.00 550.50 L359.15 554.60 L355.92 554.60 L353.30 550.50 Z"/><path d="M384.20 544.95 L381.00 540.60 L378.00 540.60 L375.00 544.95 L375.00 550.50 L378.00 554.60 L381.40 554.60 L384.20 550.50 Z"/><path d="M362.00 544.95 Q364.08 540.60 368.50 540.60 Q372.92 540.60 375.00 544.95 L375.00 550.50 Q372.92 554.60 368.50 554.60 Q364.08 554.60 362.00 550.50 Z"/></g>
<g stroke="#585858" stroke-width="1.10" fill="#fff" stroke-linejoin="round"><rect x="371.70" y="534.20" width="32.00" height="15.80" stroke="#8a8a8a" stroke-width="0.9"/><path d="M372.50 539.41 L375.70 534.80 L378.70 534.80 L381.70 539.41 L381.70 545.26 L378.70 549.60 L375.30 549.60 L372.50 545.26 Z"/><path d="M402.90 539.41 L399.54 534.80 L396.42 534.80 L393.30 539.41 L393.30 545.26 L396.42 549.60 L399.96 549.60 L402.90 545.26 Z"/><path d="M381.70 539.41 Q383.56 534.80 387.50 534.80 Q391.44 534.80 393.30 539.41 L393.30 545.26 Q391.44 549.60 387.50 549.60 Q383.56 549.60 381.70 545.26 Z"/></g>
<rect x="356.60" y="555.00" width="25.00" height="3.20" rx="0.00" fill="#fff" stroke="#585858" stroke-width="1.05"/>
<rect x="357.50" y="558.20" width="23.30" height="11.00" rx="0.00" fill="#fff" stroke="#585858" stroke-width="1.05"/>
<rect x="354.20" y="569.20" width="32.50" height="7.50" rx="0.80" fill="#fff" stroke="#585858" stroke-width="1.05"/>
<line x1="357.60" y1="569.20" x2="357.60" y2="576.70" stroke="#585858" stroke-width="0.85" />
<line x1="361.70" y1="569.20" x2="361.70" y2="576.70" stroke="#585858" stroke-width="0.85" />
<line x1="378.30" y1="569.20" x2="378.30" y2="576.70" stroke="#585858" stroke-width="0.85" />
<line x1="382.60" y1="569.20" x2="382.60" y2="576.70" stroke="#585858" stroke-width="0.85" />
<rect x="357.50" y="576.70" width="25.00" height="8.30" rx="0.00" fill="#fff" stroke="#585858" stroke-width="1.05"/>
<path d="M361 585 L362 589.2 L378 589.2 L379 585" fill="#fff" stroke="#585858" stroke-width="1.05"/>
<line x1="361.60" y1="587.40" x2="378.40" y2="587.40" stroke="#444" stroke-width="1.40" />
<rect x="365.80" y="589.20" width="8.40" height="3.40" rx="0.80" fill="#fff" stroke="#585858" stroke-width="1.05"/>
<text x="344.90" y="193.70" font-size="17.04" text-anchor="middle" fill="#1a1a1a" stroke="#1a1a1a" stroke-width="0.3" textLength="33.71" lengthAdjust="spacingAndGlyphs">Ø24</text>
<line x1="329.50" y1="197.40" x2="365.00" y2="197.40" stroke="#1a1a1a" stroke-width="1.15" />
<line x1="375.00" y1="197.40" x2="384.00" y2="197.40" stroke="#6a6a6a" stroke-width="0.80" />
<polygon points="370.60,197.40 376.80,195.50 376.80,199.30" fill="#1a1a1a"/>
<polygon points="388.30,197.40 382.10,199.30 382.10,195.50" fill="#1a1a1a"/>
<line x1="308.80" y1="243.80" x2="359.00" y2="243.80" stroke="#1a1a1a" stroke-width="1.15" />
<line x1="309.20" y1="341.40" x2="355.70" y2="341.40" stroke="#1a1a1a" stroke-width="1.15" />
<line x1="402.50" y1="341.40" x2="499.80" y2="341.40" stroke="#1a1a1a" stroke-width="1.15" />
<line x1="309.20" y1="383.20" x2="331.00" y2="383.20" stroke="#1a1a1a" stroke-width="1.15" />
<line x1="314.00" y1="251.30" x2="314.00" y2="333.80" stroke="#1a1a1a" stroke-width="1.15" /><polygon points="314.00,247.30 316.50,255.50 311.50,255.50" fill="#1a1a1a"/><polygon points="314.00,337.80 311.50,329.60 316.50,329.60" fill="#1a1a1a"/>
<text x="309.20" y="294.40" font-size="18.02" text-anchor="middle" fill="#1a1a1a" stroke="#1a1a1a" stroke-width="0.3" textLength="18.72" lengthAdjust="spacingAndGlyphs" transform="rotate(-90 309.20 294.40)">111</text>
<line x1="318.10" y1="349.40" x2="318.10" y2="376.40" stroke="#1a1a1a" stroke-width="1.15" /><polygon points="318.10,345.40 320.60,353.60 315.60,353.60" fill="#1a1a1a"/><polygon points="318.10,380.40 315.60,372.20 320.60,372.20" fill="#1a1a1a"/>
<line x1="318.10" y1="384.50" x2="318.10" y2="500.50" stroke="#1a1a1a" stroke-width="1.15" />
<text x="314.80" y="450.80" font-size="16.90" text-anchor="middle" fill="#1a1a1a" stroke="#1a1a1a" stroke-width="0.3" textLength="99.02" lengthAdjust="spacingAndGlyphs" transform="rotate(-90 314.80 450.80)">Max 45-Min1</text>
<line x1="325.70" y1="309.60" x2="325.70" y2="410.00" stroke="#1a1a1a" stroke-width="1.15" />
<line x1="451.80" y1="275.00" x2="451.80" y2="410.00" stroke="#1a1a1a" stroke-width="1.15" />
<line x1="332.50" y1="404.60" x2="445.80" y2="404.60" stroke="#1a1a1a" stroke-width="1.15" /><polygon points="328.50,404.60 336.70,402.10 336.70,407.10" fill="#1a1a1a"/><polygon points="449.80,404.60 441.60,407.10 441.60,402.10" fill="#1a1a1a"/>
<text x="424.40" y="401.00" font-size="16.90" text-anchor="middle" fill="#1a1a1a" stroke="#1a1a1a" stroke-width="0.3" textLength="36.74" lengthAdjust="spacingAndGlyphs">143,6</text>
<line x1="445.20" y1="204.50" x2="445.20" y2="216.00" stroke="#1a1a1a" stroke-width="1.15" />
<line x1="453.00" y1="219.90" x2="499.70" y2="219.90" stroke="#1a1a1a" stroke-width="1.15" />
<path d="M452.5 207.2 Q469 206.2 479.6 218.6" fill="none" stroke="#1a1a1a" stroke-width="1.15"/>
<polygon points="446.60,207.30 453.40,205.10 453.40,209.50" fill="#1a1a1a"/>
<polygon points="482.40,221.80 475.62,218.45 478.82,215.14" fill="#1a1a1a"/>
<line x1="485.70" y1="220.30" x2="480.00" y2="231.00" stroke="#1a1a1a" stroke-width="1.15" />
<text x="477.60" y="203.40" font-size="16.90" text-anchor="middle" fill="#1a1a1a" stroke="#1a1a1a" stroke-width="0.3" textLength="26.32" lengthAdjust="spacingAndGlyphs">25°</text>
<line x1="497.40" y1="227.00" x2="497.40" y2="334.20" stroke="#1a1a1a" stroke-width="1.15" /><polygon points="497.40,223.00 499.90,231.20 494.90,231.20" fill="#1a1a1a"/><polygon points="497.40,338.20 494.90,330.00 499.90,330.00" fill="#1a1a1a"/>
<text x="493.40" y="276.10" font-size="18.30" text-anchor="middle" fill="#1a1a1a" stroke="#1a1a1a" stroke-width="0.3" textLength="28.93" lengthAdjust="spacingAndGlyphs" transform="rotate(-90 493.40 276.10)">104</text>
<line x1="476.00" y1="299.20" x2="476.00" y2="334.20" stroke="#1a1a1a" stroke-width="1.15" /><polygon points="476.00,295.20 478.50,303.40 473.50,303.40" fill="#1a1a1a"/><polygon points="476.00,338.20 473.50,330.00 478.50,330.00" fill="#1a1a1a"/>
<text x="471.30" y="318.80" font-size="18.30" text-anchor="middle" fill="#1a1a1a" stroke="#1a1a1a" stroke-width="0.3" textLength="34.74" lengthAdjust="spacingAndGlyphs" transform="rotate(-90 471.30 318.80)">56,5</text>
</g>
<g id="right">
<rect x="540.5" y="243.8" width="40.2" height="91.4" fill="#fff" stroke="#1a1a1a" stroke-width="1.80"/>
<line x1="540.50" y1="255.80" x2="580.70" y2="255.80" stroke="#1a1a1a" stroke-width="1.20" />
<path d="M571.3 243.6 L571.3 88 A24.9 25 0 0 1 596.2 63 L698 63 A24.8 24.8 0 0 1 722.3 85.4 L724.5 110 L745.7 107 L743.2 83 A45.8 45.8 0 0 0 698 42 L596.2 42 A45.4 46 0 0 0 550.8 88 L550.8 243.6" fill="#fff" stroke="#1a1a1a" stroke-width="1.75" stroke-linejoin="round"/>
<line x1="550.80" y1="88.00" x2="571.30" y2="88.00" stroke="#1a1a1a" stroke-width="1.20" />
<line x1="596.20" y1="42.00" x2="596.20" y2="63.00" stroke="#1a1a1a" stroke-width="1.20" />
<line x1="698.00" y1="42.00" x2="698.00" y2="63.00" stroke="#1a1a1a" stroke-width="1.20" />
<line x1="722.40" y1="85.40" x2="743.20" y2="83.20" stroke="#1a1a1a" stroke-width="1.20" />
<line x1="723.20" y1="93.80" x2="744.10" y2="91.30" stroke="#1a1a1a" stroke-width="1.20" />
<path d="M731.5 109.6 L738.5 108.4 L738.8 110.2 L731.8 111.4 Z" fill="#555"/>
<line x1="560.50" y1="139.50" x2="560.50" y2="243.00" stroke="#333" stroke-width="1.00" stroke-dasharray="4.7 3.8"/>
<path d="M558.2 277 L558.2 275 A2.9 2.9 0 0 1 564 275 L564 277 A14.7 14.7 0 1 1 558.2 277 Z" fill="#fff" stroke="#1a1a1a" stroke-width="1.75" stroke-linejoin="round"/>
<rect x="537" y="335.3" width="48" height="5.8" fill="#fff" stroke="#1a1a1a" stroke-width="1.80"/>
<g stroke="#5c5c5c" stroke-width="1.0" fill="#fff"><rect x="513.60" y="341.50" width="28.30" height="41.90" fill="#fff" stroke="#777" stroke-width="1.0"/><clipPath id="c9"><rect x="513.60" y="341.50" width="28.30" height="41.90"/></clipPath><g clip-path="url(#c9)"><ellipse cx="521.99" cy="346.49" rx="5.87" ry="3.59" transform="rotate(6 521.99 346.49)"/><ellipse cx="534.98" cy="345.69" rx="5.24" ry="2.99" transform="rotate(-6 534.98 345.69)"/><ellipse cx="527.85" cy="353.87" rx="4.82" ry="2.99" transform="rotate(12 527.85 353.87)"/><ellipse cx="537.71" cy="353.27" rx="3.14" ry="3.59" transform="rotate(0 537.71 353.27)"/><ellipse cx="518.84" cy="356.07" rx="3.56" ry="4.59" transform="rotate(-10 518.84 356.07)"/><ellipse cx="526.18" cy="363.25" rx="7.97" ry="4.19" transform="rotate(4 526.18 363.25)"/><ellipse cx="538.34" cy="362.45" rx="3.14" ry="3.79" transform="rotate(0 538.34 362.45)"/><ellipse cx="533.10" cy="372.63" rx="6.71" ry="4.59" transform="rotate(8 533.10 372.63)"/><ellipse cx="520.31" cy="372.43" rx="4.82" ry="3.59" transform="rotate(-8 520.31 372.43)"/><ellipse cx="516.74" cy="364.05" rx="2.31" ry="2.79" transform="rotate(0 516.74 364.05)"/><ellipse cx="524.71" cy="380.21" rx="3.77" ry="1.80" transform="rotate(4 524.71 380.21)"/><ellipse cx="538.34" cy="380.01" rx="2.73" ry="1.80" transform="rotate(-6 538.34 380.01)"/><ellipse cx="516.33" cy="380.41" rx="2.10" ry="1.60" transform="rotate(0 516.33 380.41)"/><ellipse cx="528.90" cy="344.49" rx="1.26" ry="1.00" transform="rotate(0 528.90 344.49)"/></g></g><g stroke="#5c5c5c" stroke-width="1.0" fill="#fff"><rect x="581.20" y="341.50" width="26.60" height="41.90" fill="#fff" stroke="#777" stroke-width="1.0"/><clipPath id="c10"><rect x="581.20" y="341.50" width="26.60" height="41.90"/></clipPath><g clip-path="url(#c10)"><ellipse cx="598.15" cy="346.09" rx="6.40" ry="3.89" transform="rotate(4 598.15 346.09)"/><ellipse cx="586.13" cy="346.09" rx="3.55" ry="2.89" transform="rotate(-8 586.13 346.09)"/><ellipse cx="587.70" cy="352.07" rx="2.27" ry="1.50" transform="rotate(20 587.70 352.07)"/><ellipse cx="593.22" cy="357.46" rx="4.93" ry="3.49" transform="rotate(12 593.22 357.46)"/><ellipse cx="604.25" cy="361.05" rx="4.53" ry="6.19" transform="rotate(-8 604.25 361.05)"/><ellipse cx="589.48" cy="366.24" rx="7.88" ry="4.39" transform="rotate(6 589.48 366.24)"/><ellipse cx="598.15" cy="375.02" rx="5.91" ry="4.99" transform="rotate(8 598.15 375.02)"/><ellipse cx="585.93" cy="374.12" rx="3.74" ry="2.29" transform="rotate(-6 585.93 374.12)"/><ellipse cx="587.11" cy="381.21" rx="2.36" ry="1.30" transform="rotate(0 587.11 381.21)"/><ellipse cx="583.17" cy="358.06" rx="2.36" ry="2.99" transform="rotate(0 583.17 358.06)"/><ellipse cx="605.24" cy="349.88" rx="2.36" ry="3.39" transform="rotate(0 605.24 349.88)"/><ellipse cx="605.63" cy="378.41" rx="2.17" ry="2.59" transform="rotate(0 605.63 378.41)"/><ellipse cx="595.49" cy="382.00" rx="2.56" ry="1.20" transform="rotate(0 595.49 382.00)"/><ellipse cx="583.37" cy="351.68" rx="1.38" ry="1.80" transform="rotate(0 583.37 351.68)"/></g></g><rect x="542.20" y="341" width="38.70" height="42.4" fill="#fff" stroke="none"/><line x1="542.20" y1="341.00" x2="542.20" y2="383.40" stroke="#333" stroke-width="1.40" /><line x1="580.90" y1="341.00" x2="580.90" y2="383.40" stroke="#333" stroke-width="1.40" /><line x1="544.30" y1="341.50" x2="544.30" y2="383.00" stroke="#777" stroke-width="0.90" /><line x1="578.90" y1="341.50" x2="578.90" y2="383.00" stroke="#777" stroke-width="0.90" /><path d="M538.60 384.3 L539.20 387.6 Q542.40 388.6 542.80 392 L580.10 392 Q580.50 388.6 584.10 387.6 L584.70 384.3 Z" fill="#fff" stroke="#585858" stroke-width="1.05" stroke-linejoin="round"/><line x1="539.60" y1="387.80" x2="583.70" y2="387.80" stroke="#888" stroke-width="0.80" /><line x1="538.40" y1="383.60" x2="584.90" y2="383.60" stroke="#1a1a1a" stroke-width="2.00" /><rect x="542.80" y="392.00" width="37.30" height="16.80" rx="0.00" fill="#fff" stroke="#585858" stroke-width="1.05"/><rect x="540.70" y="408.60" width="41.30" height="28.60" rx="2.20" fill="#fff" stroke="#585858" stroke-width="1.05"/><line x1="543.70" y1="411.30" x2="543.70" y2="437.00" stroke="#585858" stroke-width="0.95" /><line x1="558.70" y1="411.30" x2="558.70" y2="437.00" stroke="#585858" stroke-width="0.95" /><line x1="564.20" y1="411.30" x2="564.20" y2="437.00" stroke="#585858" stroke-width="0.95" /><line x1="578.10" y1="411.30" x2="578.10" y2="437.00" stroke="#585858" stroke-width="0.95" /><line x1="541.50" y1="411.40" x2="581.20" y2="411.40" stroke="#999" stroke-width="0.60" />
<g stroke="#585858" stroke-width="1.15" fill="none"><rect x="558.90" y="437.40" width="17.10" height="63.90" fill="#fff" stroke="none"/><clipPath id="c11"><rect x="558.90" y="437.40" width="17.10" height="63.90"/></clipPath><g clip-path="url(#c11)"><path d="M558.90 414.90 L570.19 426.19 L576.00 420.37 M562.29 418.29 l-2.70 2.70 M574.26 422.12 l2.70 2.70 M558.90 420.30 L570.19 431.59 L576.00 425.77 M567.36 428.76 l-2.70 2.70 M571.64 430.13 l2.70 2.70 M558.90 425.70 L570.19 436.99 L576.00 431.17 M562.29 429.09 l-2.70 2.70 M574.26 432.92 l2.70 2.70 M558.90 431.10 L570.19 442.39 L576.00 436.57 M567.36 439.56 l-2.70 2.70 M571.64 440.93 l2.70 2.70 M558.90 436.50 L570.19 447.79 L576.00 441.97 M562.29 439.89 l-2.70 2.70 M574.26 443.72 l2.70 2.70 M558.90 441.90 L570.19 453.19 L576.00 447.37 M567.36 450.36 l-2.70 2.70 M571.64 451.73 l2.70 2.70 M558.90 447.30 L570.19 458.59 L576.00 452.77 M562.29 450.69 l-2.70 2.70 M574.26 454.52 l2.70 2.70 M558.90 452.70 L570.19 463.99 L576.00 458.17 M567.36 461.16 l-2.70 2.70 M571.64 462.53 l2.70 2.70 M558.90 458.10 L570.19 469.39 L576.00 463.57 M562.29 461.49 l-2.70 2.70 M574.26 465.32 l2.70 2.70 M558.90 463.50 L570.19 474.79 L576.00 468.97 M567.36 471.96 l-2.70 2.70 M571.64 473.33 l2.70 2.70 M558.90 468.90 L570.19 480.19 L576.00 474.37 M562.29 472.29 l-2.70 2.70 M574.26 476.12 l2.70 2.70 M558.90 474.30 L570.19 485.59 L576.00 479.77 M567.36 482.76 l-2.70 2.70 M571.64 484.13 l2.70 2.70 M558.90 479.70 L570.19 490.99 L576.00 485.17 M562.29 483.09 l-2.70 2.70 M574.26 486.92 l2.70 2.70 M558.90 485.10 L570.19 496.39 L576.00 490.57 M567.36 493.56 l-2.70 2.70 M571.64 494.93 l2.70 2.70 M558.90 490.50 L570.19 501.79 L576.00 495.97 M562.29 493.89 l-2.70 2.70 M574.26 497.72 l2.70 2.70 M558.90 495.90 L570.19 507.19 L576.00 501.37 M567.36 504.36 l-2.70 2.70 M571.64 505.73 l2.70 2.70 M558.90 501.30 L570.19 512.59 L576.00 506.77 M562.29 504.69 l-2.70 2.70 M574.26 508.52 l2.70 2.70 M558.90 506.70 L570.19 517.99 L576.00 512.17 M567.36 515.16 l-2.70 2.70 M571.64 516.53 l2.70 2.70 M558.90 512.10 L570.19 523.39 L576.00 517.57 M562.29 515.49 l-2.70 2.70 M574.26 519.32 l2.70 2.70 M558.90 517.50 L570.19 528.79 L576.00 522.97 M567.36 525.96 l-2.70 2.70 M571.64 527.33 l2.70 2.70 M558.90 522.90 L570.19 534.19 L576.00 528.37 M562.29 526.29 l-2.70 2.70 M574.26 530.12 l2.70 2.70"/></g><line x1="558.90" y1="437.40" x2="558.90" y2="501.30" stroke="#585858" stroke-width="1.15" /><line x1="576.00" y1="437.40" x2="576.00" y2="501.30" stroke="#585858" stroke-width="1.15" /></g><g stroke="#585858" stroke-width="1.15" fill="none"><rect x="545.50" y="437.40" width="17.70" height="63.90" fill="#fff" stroke="none"/><clipPath id="c12"><rect x="545.50" y="437.40" width="17.70" height="63.90"/></clipPath><g clip-path="url(#c12)"><path d="M545.50 414.30 L552.58 421.38 L563.20 410.76 M547.62 416.42 l-2.70 2.70 M560.01 413.95 l2.70 2.70 M545.50 419.70 L552.58 426.78 L563.20 416.16 M550.81 425.01 l-2.70 2.70 M555.24 424.12 l2.70 2.70 M545.50 425.10 L552.58 432.18 L563.20 421.56 M547.62 427.22 l-2.70 2.70 M560.01 424.75 l2.70 2.70 M545.50 430.50 L552.58 437.58 L563.20 426.96 M550.81 435.81 l-2.70 2.70 M555.24 434.92 l2.70 2.70 M545.50 435.90 L552.58 442.98 L563.20 432.36 M547.62 438.02 l-2.70 2.70 M560.01 435.55 l2.70 2.70 M545.50 441.30 L552.58 448.38 L563.20 437.76 M550.81 446.61 l-2.70 2.70 M555.24 445.72 l2.70 2.70 M545.50 446.70 L552.58 453.78 L563.20 443.16 M547.62 448.82 l-2.70 2.70 M560.01 446.35 l2.70 2.70 M545.50 452.10 L552.58 459.18 L563.20 448.56 M550.81 457.41 l-2.70 2.70 M555.24 456.52 l2.70 2.70 M545.50 457.50 L552.58 464.58 L563.20 453.96 M547.62 459.62 l-2.70 2.70 M560.01 457.15 l2.70 2.70 M545.50 462.90 L552.58 469.98 L563.20 459.36 M550.81 468.21 l-2.70 2.70 M555.24 467.32 l2.70 2.70 M545.50 468.30 L552.58 475.38 L563.20 464.76 M547.62 470.42 l-2.70 2.70 M560.01 467.95 l2.70 2.70 M545.50 473.70 L552.58 480.78 L563.20 470.16 M550.81 479.01 l-2.70 2.70 M555.24 478.12 l2.70 2.70 M545.50 479.10 L552.58 486.18 L563.20 475.56 M547.62 481.22 l-2.70 2.70 M560.01 478.75 l2.70 2.70 M545.50 484.50 L552.58 491.58 L563.20 480.96 M550.81 489.81 l-2.70 2.70 M555.24 488.92 l2.70 2.70 M545.50 489.90 L552.58 496.98 L563.20 486.36 M547.62 492.02 l-2.70 2.70 M560.01 489.55 l2.70 2.70 M545.50 495.30 L552.58 502.38 L563.20 491.76 M550.81 500.61 l-2.70 2.70 M555.24 499.72 l2.70 2.70 M545.50 500.70 L552.58 507.78 L563.20 497.16 M547.62 502.82 l-2.70 2.70 M560.01 500.35 l2.70 2.70 M545.50 506.10 L552.58 513.18 L563.20 502.56 M550.81 511.41 l-2.70 2.70 M555.24 510.52 l2.70 2.70 M545.50 511.50 L552.58 518.58 L563.20 507.96 M547.62 513.62 l-2.70 2.70 M560.01 511.15 l2.70 2.70 M545.50 516.90 L552.58 523.98 L563.20 513.36 M550.81 522.21 l-2.70 2.70 M555.24 521.32 l2.70 2.70 M545.50 522.30 L552.58 529.38 L563.20 518.76 M547.62 524.42 l-2.70 2.70 M560.01 521.95 l2.70 2.70"/></g><line x1="545.50" y1="437.40" x2="545.50" y2="501.30" stroke="#585858" stroke-width="1.15" /><line x1="563.20" y1="437.40" x2="563.20" y2="501.30" stroke="#585858" stroke-width="1.15" /></g><path d="M544.30 462.70 C552.21 464.86 556.48 462.70 560.75 460.30 S569.29 455.74 577.20 457.90" fill="none" stroke="#fff" stroke-width="5.20"/><path d="M544.30 460.60 C552.21 462.76 556.48 460.60 560.75 458.20 S569.29 453.64 577.20 455.80" fill="none" stroke="#585858" stroke-width="1.0"/><path d="M544.30 464.80 C552.21 466.96 556.48 464.80 560.75 462.40 S569.29 457.84 577.20 460.00" fill="none" stroke="#585858" stroke-width="1.0"/><rect x="544.50" y="501.30" width="14.40" height="4.40" rx="0.80" fill="#fff" stroke="#585858" stroke-width="1.05"/><rect x="562.60" y="501.30" width="14.20" height="4.40" rx="0.80" fill="#fff" stroke="#585858" stroke-width="1.05"/><rect x="546.80" y="505.70" width="11.50" height="10.00" rx="0.00" fill="#fff" stroke="#585858" stroke-width="1.05"/><rect x="564.30" y="505.70" width="11.50" height="10.00" rx="0.00" fill="#fff" stroke="#585858" stroke-width="1.05"/><line x1="546.80" y1="507.60" x2="558.30" y2="507.60" stroke="#888" stroke-width="0.70" /><line x1="564.30" y1="507.60" x2="575.80" y2="507.60" stroke="#888" stroke-width="0.70" /><rect x="543.90" y="515.70" width="16.20" height="4.50" rx="1.20" fill="#fff" stroke="#585858" stroke-width="1.05"/><rect x="562.00" y="515.70" width="15.60" height="4.50" rx="1.20" fill="#fff" stroke="#585858" stroke-width="1.05"/><line x1="561.00" y1="505.70" x2="561.00" y2="515.70" stroke="#585858" stroke-width="0.80" /><g stroke="#585858" stroke-width="1.10" fill="#fff" stroke-linejoin="round"><rect x="538.10" y="520.60" width="45.70" height="15.60" stroke="#8a8a8a" stroke-width="0.9"/><path d="M538.90 525.75 L543.38 521.20 L547.34 521.20 L551.30 525.75 L551.30 531.52 L547.34 535.80 L542.85 535.80 L538.90 531.52 Z"/><path d="M583.00 525.75 L578.16 521.20 L573.93 521.20 L569.70 525.75 L569.70 531.52 L573.93 535.80 L578.72 535.80 L583.00 531.52 Z"/><path d="M551.30 525.75 Q554.24 521.20 560.50 521.20 Q566.76 521.20 569.70 525.75 L569.70 531.52 Q566.76 535.80 560.50 535.80 Q554.24 535.80 551.30 531.52 Z"/></g><rect x="547.50" y="536.40" width="26.50" height="3.60" rx="0.00" fill="#fff" stroke="#585858" stroke-width="1.05"/><line x1="560.80" y1="536.40" x2="560.80" y2="540.00" stroke="#585858" stroke-width="0.80" /><rect x="548.50" y="540.00" width="24.50" height="12.00" rx="0.00" fill="#fff" stroke="#585858" stroke-width="1.05"/><rect x="546.00" y="552.00" width="30.00" height="7.50" rx="0.80" fill="#fff" stroke="#585858" stroke-width="1.05"/><line x1="548.60" y1="552.00" x2="548.60" y2="559.50" stroke="#585858" stroke-width="0.85" /><line x1="560.00" y1="552.00" x2="560.00" y2="559.50" stroke="#585858" stroke-width="0.85" /><line x1="562.00" y1="552.00" x2="562.00" y2="559.50" stroke="#585858" stroke-width="0.85" /><line x1="573.00" y1="552.00" x2="573.00" y2="559.50" stroke="#585858" stroke-width="0.85" /><rect x="549.50" y="559.50" width="22.50" height="7.00" rx="0.00" fill="#fff" stroke="#585858" stroke-width="1.05"/><path d="M551.60 566.5 L552.60 569.5 L570.00 569.5 L571.00 566.5" fill="#fff" stroke="#585858" stroke-width="1.05"/><line x1="552.00" y1="568.00" x2="570.60" y2="568.00" stroke="#444" stroke-width="1.40" /><rect x="556.50" y="569.50" width="8.50" height="4.00" rx="0.80" fill="#fff" stroke="#585858" stroke-width="1.05"/>
<line x1="720.30" y1="111.70" x2="759.50" y2="111.70" stroke="#1a1a1a" stroke-width="1.15" />
<line x1="735.70" y1="111.70" x2="735.70" y2="176.40" stroke="#1a1a1a" stroke-width="1.15" />
<line x1="567.20" y1="155.40" x2="728.00" y2="155.40" stroke="#1a1a1a" stroke-width="1.15" /><polygon points="563.20,155.40 571.40,152.90 571.40,157.90" fill="#1a1a1a"/><polygon points="732.00,155.40 723.80,157.90 723.80,152.90" fill="#1a1a1a"/>
<text x="659.70" y="152.40" font-size="17.32" text-anchor="middle" fill="#1a1a1a" stroke="#1a1a1a" stroke-width="0.3" textLength="26.92" lengthAdjust="spacingAndGlyphs">198</text>
<line x1="754.00" y1="120.30" x2="754.00" y2="334.20" stroke="#1a1a1a" stroke-width="1.15" /><polygon points="754.00,116.30 756.50,124.50 751.50,124.50" fill="#1a1a1a"/><polygon points="754.00,338.20 751.50,330.00 756.50,330.00" fill="#1a1a1a"/>
<line x1="585.00" y1="341.80" x2="759.70" y2="341.80" stroke="#1a1a1a" stroke-width="1.15" />
<text x="749.60" y="217.50" font-size="17.32" text-anchor="middle" fill="#1a1a1a" stroke="#1a1a1a" stroke-width="0.3" textLength="42.50" lengthAdjust="spacingAndGlyphs" transform="rotate(-90 749.60 217.50)">262,6</text>
<text x="602.10" y="260.00" font-size="17.46" text-anchor="middle" fill="#1a1a1a" stroke="#1a1a1a" stroke-width="0.3" textLength="33.29" lengthAdjust="spacingAndGlyphs">Ø45</text>
<line x1="586.50" y1="263.80" x2="621.70" y2="263.80" stroke="#1a1a1a" stroke-width="1.15" />
<line x1="549.00" y1="263.80" x2="574.00" y2="263.80" stroke="#1a1a1a" stroke-width="1.15" />
<polygon points="545.00,263.80 551.50,261.80 551.50,265.80" fill="#1a1a1a"/>
<polygon points="577.60,263.80 571.10,265.80 571.10,261.80" fill="#1a1a1a"/>
<text x="560.60" y="328.30" font-size="17.46" text-anchor="middle" fill="#1a1a1a" stroke="#1a1a1a" stroke-width="0.3" textLength="34.38" lengthAdjust="spacingAndGlyphs">Ø53</text>
<line x1="537.50" y1="319.00" x2="537.50" y2="335.00" stroke="#1a1a1a" stroke-width="1.15" />
<line x1="584.30" y1="319.00" x2="584.30" y2="335.00" stroke="#1a1a1a" stroke-width="1.15" />
<line x1="545.00" y1="331.40" x2="577.00" y2="331.40" stroke="#1a1a1a" stroke-width="1.15" />
<polygon points="540.80,331.40 547.30,329.40 547.30,333.40" fill="#1a1a1a"/>
<polygon points="580.80,331.40 574.30,333.40 574.30,329.40" fill="#1a1a1a"/>
</g>
</svg>
</body></html>
